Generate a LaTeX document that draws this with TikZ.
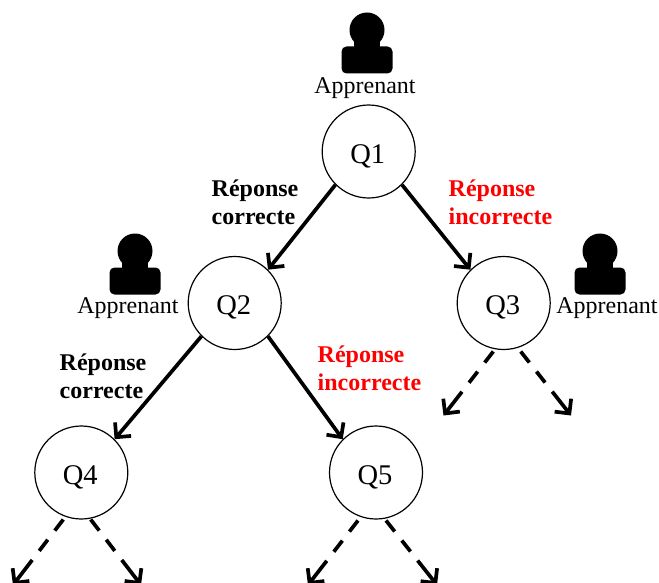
\documentclass[tikz,border=0pt]{standalone}
\usepackage{fontspec}
\setmainfont{Liberation Serif}
\usetikzlibrary{arrows.meta}
\definecolor{redlab}{RGB}{255,0,0}
\tikzset{
  x=1pt,y=-1pt,
  question/.style={circle,draw=black,line width=1.2pt,minimum size=93pt,inner sep=0pt,font=\fontsize{28.5}{32}\selectfont},
  learner/.style={font=\fontsize{24}{28}\selectfont,inner sep=0pt},
  answer/.style={font=\fontsize{24}{28}\selectfont\bfseries,align=left,inner sep=0pt,anchor=west},
  wrong/.style={answer,text=redlab},
  link/.style={line width=3.7pt,-{Straight Barb[length=10.5pt,width=21pt,line width=3.7pt]}},
  next/.style={link,dash pattern=on 14pt off 11.5pt on 14pt off 11.5pt on 60pt off 1pt},
  bodyshape/.style={fill=black,rounded corners=5pt}
}
\newcommand{\person}[2]{%
  \fill[bodyshape] (#1-25.5,#2+16.5) rectangle (#1+25.5,#2+43.5);
  \fill[black] (#1,#2) circle [radius=17.5pt];
  \fill[black] (#1-12.6,#2+12) rectangle (#1+12.6,#2+18);
}
\newcommand{\qtext}[1]{\makebox[0pt]{\hspace*{-2pt}\raisebox{-11.8pt}[0pt][0pt]{#1}}}
\begin{document}
\begin{tikzpicture}
\useasboundingbox (0,0) rectangle (659,583);
\node[question] (q1) at (368.7,151.5) {\qtext{Q1}};
\node[question] (q2) at (234.7,303) {\qtext{Q2}};
\node[question] (q3) at (503.7,303) {\qtext{Q3}};
\node[question] (q4) at (81.3,472.5) {\qtext{Q4}};
\node[question] (q5) at (376,472.5) {\qtext{Q5}};
\person{367}{30}
\person{135}{251}
\person{600}{251}
\node[learner] (l1) at (365,88.5) {Apprenant};
\node[learner] (l2) at (128,308.5) {Apprenant};
\node[learner] (l3) at (607,308.5) {Apprenant};
\node[answer] (a1) at (211.5,202) {Réponse\\correcte};
\node[wrong] (a2) at (448.5,202) {Réponse\\incorrecte};
\node[answer] (a3) at (59.5,376) {Réponse\\correcte};
\node[wrong] (a4) at (317.5,368) {Réponse\\incorrecte};
\draw[link] (q1.225) -- (q2.45);
\draw[link] (q1.315) -- (q3.135);
\draw[link] (q2.225) -- (q4.45);
\draw[link] (q2.315) -- (q5.135);
\coordinate (c1) at (443.5,415.5);
\coordinate (c2) at (571,415.5);
\coordinate (c3) at (13,585);
\coordinate (c4) at (141,585);
\coordinate (c5) at (308,585);
\coordinate (c6) at (437,585);
\coordinate (s1) at (493.3,351.5);
\coordinate (s2) at (520.7,351.5);
\coordinate (s3) at (63.3,519.5);
\coordinate (s4) at (90.7,519.5);
\coordinate (s5) at (358,520.5);
\coordinate (s6) at (386,520.5);
\draw[next] (s1) -- (c1);
\draw[next] (s2) -- (c2);
\draw[next] (s3) -- (c3);
\draw[next] (s4) -- (c4);
\draw[next] (s5) -- (c5);
\draw[next] (s6) -- (c6);
\end{tikzpicture}
\end{document}
